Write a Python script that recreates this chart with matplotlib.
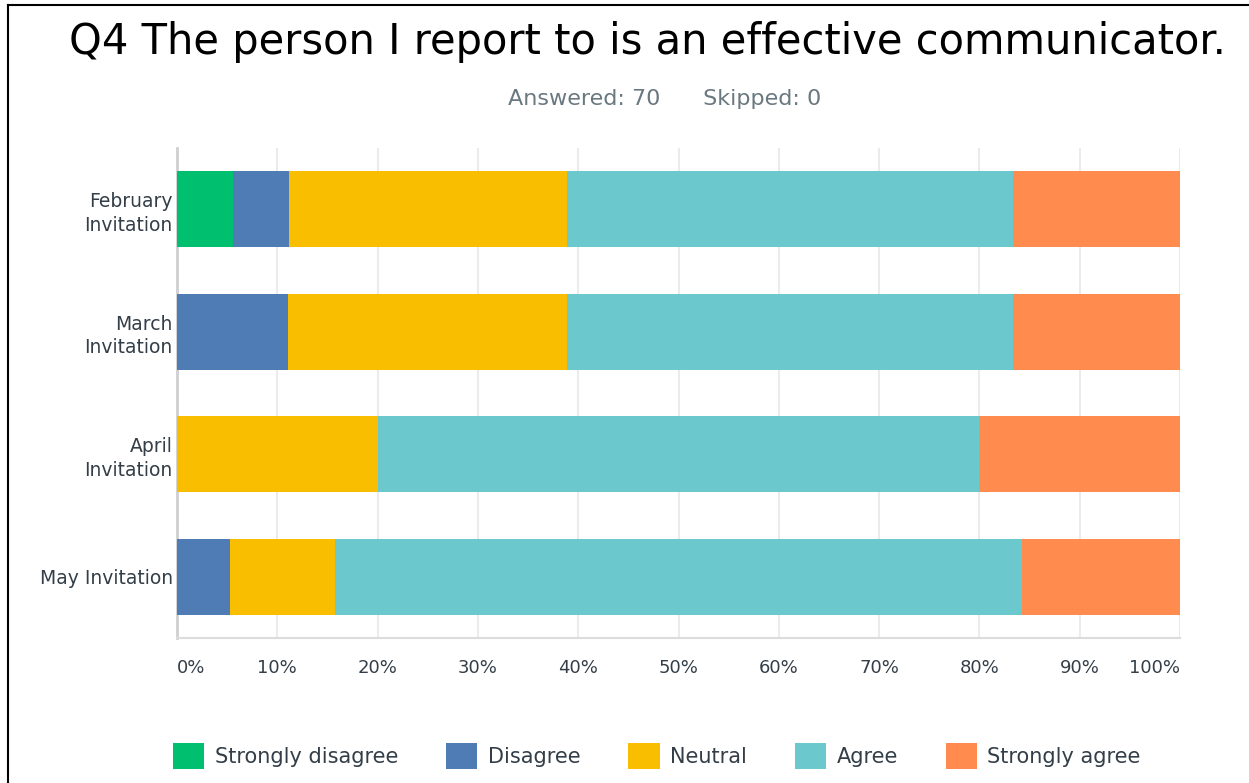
import matplotlib.pyplot as plt
from matplotlib.patches import Patch
from matplotlib.lines import Line2D
import numpy as np

# Survey data (percent of respondents per invitation)
invitations = ["February\nInvitation", "March\nInvitation", "April\nInvitation", "May Invitation"]
responses = ["Strongly disagree", "Disagree", "Neutral", "Agree", "Strongly agree"]
strongly_disagree = [5.56, 0.0, 0.0, 0.0]
disagree = [5.56, 11.11, 0.0, 5.26]
neutral = [27.78, 27.78, 20.0, 10.53]
agree = [44.44, 44.44, 60.0, 68.42]
strongly_agree = [16.67, 16.67, 20.0, 15.79]
xtick_labels = ["0%", "10%", "20%", "30%", "40%", "50%", "60%", "70%", "80%", "90%", "100%"]

colors = ["#00bf6f", "#507cb6", "#f9be00", "#6bc8cd", "#ff8b4f"]
text_col = "#333e48"

fig = plt.figure(figsize=(12.49, 7.83), dpi=100)
ax = fig.add_axes([0.1417, 0.1852, 0.8031, 0.6258])

series = [strongly_disagree, disagree, neutral, agree, strongly_agree]
y = np.arange(len(invitations))
left = np.zeros(len(invitations))
for vals, c, name in zip(series, colors, responses):
    ax.barh(y, vals, left=left, height=0.62, color=c, label=name, zorder=3)
    left += np.array(vals)

ax.set_xlim(0, 100)
ax.set_ylim(len(invitations) - 0.5, -0.5)
ax.set_xticks(np.arange(0, 101, 10))
ax.set_xticklabels(xtick_labels, fontsize=13, color=text_col)
labs = ax.get_xticklabels()
labs[0].set_ha("left")
labs[-1].set_ha("right")
ax.set_yticks(y)
ax.set_yticklabels(invitations, fontsize=13.5, color=text_col, linespacing=1.3,
                   multialignment="right")
ax.tick_params(axis="both", length=0)
ax.tick_params(axis="x", pad=15)
ax.tick_params(axis="y", pad=3)
ax.grid(axis="x", color="#ebebeb", linewidth=1.5, zorder=0)
for s in ["top", "right"]:
    ax.spines[s].set_visible(False)
ax.spines["left"].set_color("#cfcfcf")
ax.spines["left"].set_linewidth(2)
ax.spines["bottom"].set_color("#dcdcdc")
ax.spines["bottom"].set_linewidth(1.5)

fig.text(0.518, 0.946, "Q4 The person I report to is an effective communicator.",
         fontsize=30, family="DejaVu Sans", ha="center", va="center", color="black")
fig.text(0.532, 0.874, "Answered: 70      Skipped: 0", fontsize=16, ha="center",
         va="center", color="#6a7880")

handles = [Patch(facecolor=c, edgecolor="none") for c in colors]
fig.legend(handles, responses, loc="center", bbox_to_anchor=(0.526, 0.0345), ncol=5,
           frameon=False, fontsize=15, handlelength=1.5, handleheight=1.5,
           columnspacing=2.3, handletextpad=0.5, labelcolor=text_col)

# frame lines on the left and top
fig.add_artist(Line2D([0.0065, 0.0065], [0, 0.994], transform=fig.transFigure, color="black", lw=1.5))
fig.add_artist(Line2D([0.0065, 1], [0.994, 0.994], transform=fig.transFigure, color="black", lw=1.5))

fig.savefig("out.png", dpi=100, facecolor="white")
